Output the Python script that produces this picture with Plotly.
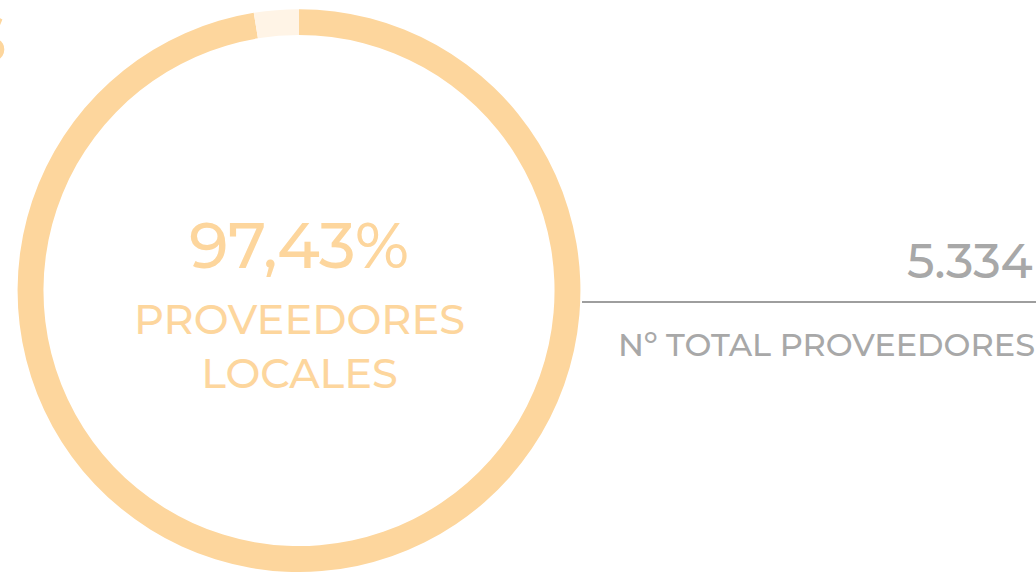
import plotly.graph_objects as go

labels = ["Proveedores locales", "Proveedores no locales"]
values = [97.43, 2.57]
colors = ["#FDD69D", "#FFF4E6"]
pct_label = "97,43%"
center_label = "PROVEEDORES<br>LOCALES"
total_value = "5.334"
total_label = "Nº TOTAL PROVEEDORES"

W, H = 1036, 572
ORANGE = "#FDD69D"
GRAY = "#A8A8A8"
FONT = "Montserrat, Inter, Lato, sans-serif"

fig = go.Figure()
fig.add_trace(go.Pie(
    labels=labels, values=values, sort=False, direction="clockwise",
    rotation=0, hole=0.908, textinfo="none", hoverinfo="label+percent",
    marker=dict(colors=colors, line=dict(width=0)),
    domain=dict(x=[17 / W, 581 / W], y=[0, 0.984]),
    showlegend=False,
))

def px(x):
    return x / W

def py(y):
    return 1 - y / H

ann = []
ann.append(dict(text=pct_label, x=px(299), y=py(245), xref="paper", yref="paper",
                xanchor="center", yanchor="middle", showarrow=False,
                font=dict(family=FONT, size=64, color=ORANGE, weight=500)))
ann.append(dict(text=center_label, x=px(299), y=py(346), xref="paper", yref="paper",
                xanchor="center", yanchor="middle", showarrow=False,
                font=dict(family=FONT, size=41.5, color=ORANGE, weight=500)))
ann.append(dict(text=total_value, x=px(1035), y=py(261), xref="paper", yref="paper",
                xanchor="right", yanchor="middle", showarrow=False,
                font=dict(family=FONT, size=48, color=GRAY, weight=500)))
ann.append(dict(text=total_label, x=px(1037), y=py(344), xref="paper", yref="paper",
                xanchor="right", yanchor="middle", showarrow=False,
                font=dict(family=FONT, size=32, color=GRAY, weight=500)))
ann.append(dict(text="S", x=px(9), y=py(38), xref="paper", yref="paper",
                xanchor="right", yanchor="middle", showarrow=False,
                font=dict(family=FONT, size=66, color=ORANGE, weight=500)))

fig.update_layout(
    width=W, height=H, margin=dict(l=0, r=0, t=0, b=0),
    paper_bgcolor="white", plot_bgcolor="white",
    annotations=ann,
    shapes=[dict(type="line", xref="paper", yref="paper", x0=px(582), x1=px(1036),
                 y0=py(302), y1=py(302), line=dict(color="#9E9E9E", width=2))],
)
fig.write_html("out.html", config={"displayModeBar": False},
               post_script="document.body.style.margin='0';document.body.style.overflow='hidden';")
